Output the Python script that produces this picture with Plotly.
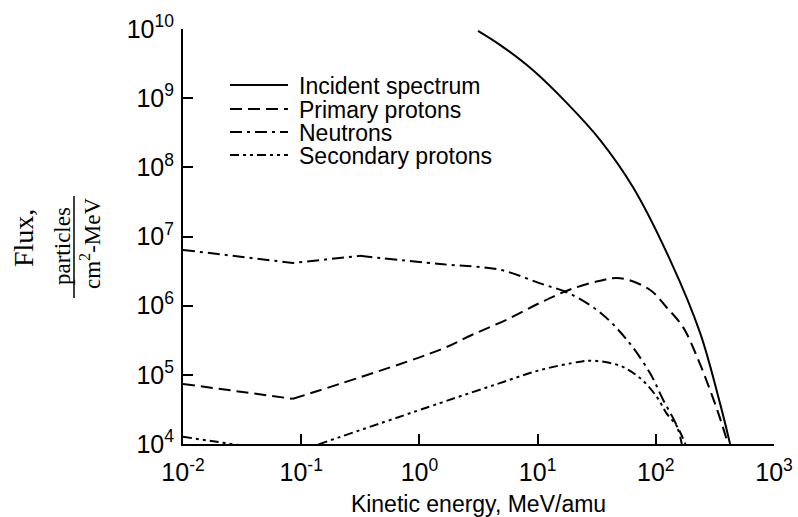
import plotly.graph_objects as go

# Kinetic energy (MeV/amu) and flux (particles / cm^2-MeV) for each component
incident_energy = [3.13, 4.8, 9.1, 17.8, 33.7, 64, 132, 237, 349, 425]
incident_flux = [9.4e9, 5.9e9, 2.55e9, 8.4e8, 2.5e8, 5.2e7, 4.6e6, 4.05e5, 3.9e4, 1.0e4]

primary_energy = [0.01, 0.085, 1.49, 2.8, 5.5, 10.5, 18.6, 34, 50, 89, 123, 170, 224, 288, 347, 408]
primary_flux = [7.4e4, 4.5e4, 2.3e5, 3.8e5, 6.3e5, 1.1e6, 1.7e6, 2.3e6, 2.5e6, 1.7e6, 9.5e5, 4.9e5, 1.8e5, 6.0e4, 2.45e4, 1.0e4]

neutron_energy = [0.01, 0.085, 0.314, 1.49, 4.8, 10.5, 18.6, 34, 57, 89, 115, 151, 166]
neutron_flux = [6.4e6, 4.15e6, 5.25e6, 4.0e6, 3.3e6, 2.1e6, 1.5e6, 7.9e5, 3.2e5, 1.07e5, 4.4e4, 1.8e4, 1.0e4]

secondary_energy = [0.01, 0.085, 1.49, 4.8, 10.5, 23, 29.5, 50, 74, 102, 123, 151, 178]
secondary_flux = [1.27e4, 7.4e3, 3.9e4, 7.6e4, 1.17e5, 1.55e5, 1.6e5, 1.35e5, 8.9e4, 4.8e4, 2.8e4, 1.8e4, 1.0e4]

series_names = ["Incident spectrum", "Primary protons", "Neutrons", "Secondary protons"]
series_dash = ["solid", "12px,6px", "12px,5px,3px,5px", "9px,4px,3px,4px,3px,4px"]
# index of the last sharp corner in each series (straight segments up to it, smooth after)
series_corner = [0, 1, 2, 1]

x_tick_vals = [1e-2, 1e-1, 1e0, 1e1, 1e2, 1e3]
x_tick_text = ["10<sup>-2</sup>", "10<sup>-1</sup>", "10<sup>0</sup>", "10<sup>1</sup>",
               "10<sup>2</sup>", "10<sup>3</sup>"]
y_tick_vals = [1e4, 1e5, 1e6, 1e7, 1e8, 1e9, 1e10]
y_tick_text = ["10<sup>4</sup>", "10<sup>5</sup>", "10<sup>6</sup>", "10<sup>7</sup>",
               "10<sup>8</sup>", "10<sup>9</sup>", "10<sup>10</sup>"]

SANS = "Liberation Sans, Arial, Helvetica, sans-serif"
SERIF = "Liberation Serif, Times New Roman, serif"

fig = go.Figure()
all_series = [
    (incident_energy, incident_flux),
    (primary_energy, primary_flux),
    (neutron_energy, neutron_flux),
    (secondary_energy, secondary_flux),
]
for (xs, ys), name, dash, k in zip(all_series, series_names, series_dash, series_corner):
    if k > 0:
        # straight low-energy segments with sharp corners
        fig.add_trace(go.Scatter(
            x=xs[:k + 1], y=ys[:k + 1], mode="lines", name=name, legendgroup=name,
            showlegend=False, line=dict(color="black", width=2, dash=dash),
        ))
    # smooth high-energy part
    fig.add_trace(go.Scatter(
        x=xs[k:], y=ys[k:], mode="lines", name=name, legendgroup=name, showlegend=False,
        line=dict(color="black", width=2, dash=dash, shape="spline", smoothing=1.0),
    ))

# Plot area in pixels: x 183..774, y 29..444
L, R, T, B = 183, 24, 29, 73
W, H = 798, 517
pw, ph = W - L - R, H - T - B


def px_x(p):
    return (p - L) / pw


def px_y(p):
    return (H - B - p) / ph


shapes = []
annotations = []

# Legend drawn as short line samples with labels
legend_rows = [85, 109, 132, 155]
for name, dash, row in zip(series_names, series_dash, legend_rows):
    shapes.append(dict(type="line", xref="paper", yref="paper",
                       x0=px_x(230), x1=px_x(288), y0=px_y(row), y1=px_y(row),
                       line=dict(color="black", width=2, dash=dash)))
    annotations.append(dict(xref="paper", yref="paper", x=px_x(297), y=px_y(row + 1),
                            xanchor="left", yanchor="middle", showarrow=False,
                            text=name, font=dict(family=SANS, size=23, color="black")))

# Vertical axis title: "Flux," followed by a stacked fraction
annotations.append(dict(xref="paper", yref="paper", x=px_x(23), y=px_y(238),
                        xanchor="center", yanchor="middle", textangle=-90, showarrow=False,
                        text="Flux,", font=dict(family=SERIF, size=28, color="black")))
annotations.append(dict(xref="paper", yref="paper", x=px_x(63), y=px_y(246),
                        xanchor="center", yanchor="middle", textangle=-90, showarrow=False,
                        text="particles", font=dict(family=SERIF, size=23, color="black")))
annotations.append(dict(xref="paper", yref="paper", x=px_x(90), y=px_y(244),
                        xanchor="center", yanchor="middle", textangle=-90, showarrow=False,
                        text="cm<sup>2</sup>-MeV", font=dict(family=SERIF, size=23, color="black")))
shapes.append(dict(type="line", xref="paper", yref="paper",
                   x0=px_x(74), x1=px_x(74), y0=px_y(196), y1=px_y(298),
                   line=dict(color="black", width=1.5)))

fig.update_layout(
    width=W, height=H,
    margin=dict(l=L, r=R, t=T, b=B, pad=0, autoexpand=False),
    paper_bgcolor="white", plot_bgcolor="white",
    shapes=shapes, annotations=annotations,
    showlegend=False,
    xaxis=dict(
        type="log", range=[-2, 3], automargin=False,
        tickvals=x_tick_vals, ticktext=x_tick_text,
        ticks="inside", ticklen=10, tickwidth=2, tickcolor="black",
        showline=True, linecolor="black", linewidth=2,
        showgrid=False, zeroline=False, mirror=False,
        tickfont=dict(family=SANS, size=25, color="black"),
        ticklabelstandoff=5,
        title=dict(text="Kinetic energy, MeV/amu", standoff=16,
                   font=dict(family=SANS, size=23, color="black")),
    ),
    yaxis=dict(
        type="log", range=[4, 10], automargin=False,
        tickvals=y_tick_vals, ticktext=y_tick_text,
        ticks="inside", ticklen=10, tickwidth=2, tickcolor="black",
        showline=True, linecolor="black", linewidth=2,
        showgrid=False, zeroline=False, mirror=False,
        tickfont=dict(family=SANS, size=25, color="black"),
        ticklabelstandoff=2,
    ),
)

fig.write_html("out.html")
